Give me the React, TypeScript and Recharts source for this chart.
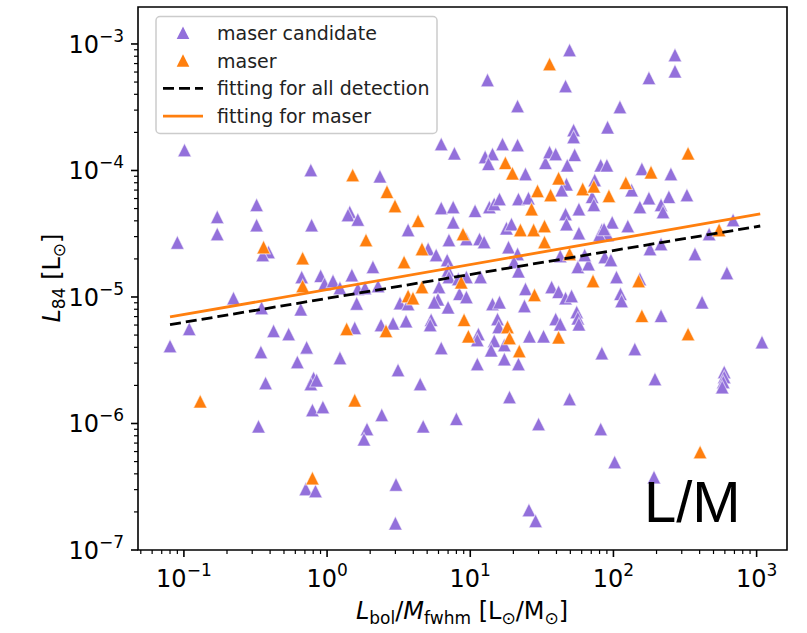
import { ScatterChart, Scatter, XAxis, YAxis, ReferenceArea } from 'recharts'

const FONT = '"DejaVu Sans", sans-serif'
const PURPLE = '#9370DB'
const ORANGE = '#FF7F0E'

// ticks (log axes, matplotlib style major + minor)
const xMajorTicks = [0.1, 1, 10, 100, 1000]
const xMinorTicks = [
  0.05, 0.06, 0.07, 0.08, 0.09, 0.2, 0.3, 0.4, 0.5, 0.6, 0.7, 0.8, 0.9, 2, 3, 4, 5, 6, 7, 8, 9,
  20, 30, 40, 50, 60, 70, 80, 90, 200, 300, 400, 500, 600, 700, 800, 900,
]
const yMajorTicks = [1e-7, 1e-6, 1e-5, 1e-4, 1e-3]
const yMinorTicks = [
  2e-7, 3e-7, 4e-7, 5e-7, 6e-7, 7e-7, 8e-7, 9e-7,
  2e-6, 3e-6, 4e-6, 5e-6, 6e-6, 7e-6, 8e-6, 9e-6,
  2e-5, 3e-5, 4e-5, 5e-5, 6e-5, 7e-5, 8e-5, 9e-5,
  2e-4, 3e-4, 4e-4, 5e-4, 6e-4, 7e-4, 8e-4, 9e-4,
]
const xDomain = [0.0478, 1630]
const yDomain = [1e-7, 1.96e-3]

// [L_bol/M_fwhm, L_84]
const candidatePoints: [number, number][] = [
  [0.08, 4.1e-6], [0.09, 2.7e-5], [0.101, 1.45e-4], [0.109, 5.6e-6], [0.171, 4.3e-5],
  [0.171, 3.15e-5], [0.222, 9.8e-6], [0.322, 5.35e-5], [0.322, 3.7e-5], [0.39, 2.27e-5],
  [0.355, 2.15e-5], [0.349, 8.2e-6], [0.423, 5.4e-6], [0.539, 5.1e-6], [0.345, 3.67e-6],
  [0.372, 2.09e-6], [0.332, 9.5e-7], [0.62, 3.06e-6], [0.72, 4.0e-6], [0.77, 1.01e-4],
  [0.78, 3.7e-5], [0.665, 1.44e-5], [0.655, 8.0e-6], [0.805, 2.29e-6], [0.77, 2.05e-6],
  [0.845, 2.2e-6], [0.79, 1.28e-6], [0.935, 1.35e-6], [0.71, 3.04e-7], [0.83, 2.93e-7],
  [0.902, 1.47e-5], [0.96, 1.27e-5], [1.1, 1.34e-5], [1.23, 1.18e-5], [1.23, 3.3e-6],
  [1.49, 1.49e-5], [1.64, 1.16e-5], [1.84, 1.18e-5], [1.61, 8.9e-6], [1.56, 5.7e-6],
  [1.44, 4.7e-5], [1.4, 4.45e-5], [1.64, 4.1e-5], [2.09, 1.73e-5], [2.27, 1.22e-5],
  [2.34, 9.0e-5], [2.38, 6.0e-6], [2.41, 1.17e-6], [1.9, 9.05e-7], [1.81, 7.5e-7],
  [2.89, 6.2e-6], [3.13, 2.65e-6], [3.03, 3.3e-7], [3.0, 1.63e-7], [3.56, 6.45e-6],
  [3.23, 8.95e-6], [3.68, 8.8e-6], [3.68, 3.39e-5], [4.47, 2.05e-6], [4.69, 9.5e-7],
  [5.08, 2.4e-5], [5.78, 2.15e-5], [6.9, 1.96e-5], [7.0, 1.63e-5], [7.1, 1.44e-5],
  [7.1, 2.82e-5], [7.6, 3.9e-5], [6.27, 5.05e-5], [7.6, 5.15e-5], [6.27, 1.62e-4],
  [7.75, 1.37e-4], [8.25, 1.39e-5], [6.05, 1.2e-5], [5.95, 9.6e-6], [5.6, 9.1e-6],
  [7.0, 8.3e-6], [8.4, 1.06e-5], [5.33, 6.6e-6], [5.25, 6.0e-6], [6.27, 3.95e-6],
  [8.0, 1.09e-6], [9.4, 2.87e-5], [9.4, 1.44e-5], [9.4, 1.0e-5], [11.8, 1.44e-5],
  [10.8, 4.8e-5], [11.6, 2.87e-5], [12.5, 2.72e-5], [13.6, 5.15e-5], [14.7, 5.44e-5],
  [16.0, 5.95e-5], [13.2, 5.2e-4], [12.7, 1.28e-4], [14.3, 1.35e-4], [13.4, 1.13e-4],
  [16.8, 1.62e-4], [21.4, 1.59e-4], [21.4, 3.23e-4], [21.7, 5.95e-5], [25.5, 6.05e-5],
  [24.3, 9.4e-5], [14.3, 8.8e-6], [16.0, 9.1e-6], [17.9, 3.5e-5], [19.4, 3.77e-5],
  [18.5, 2.48e-5], [21.4, 2.19e-5], [20.2, 1.89e-5], [21.7, 1.6e-5], [24.3, 1.16e-5],
  [23.9, 8.5e-6], [15.5, 6.7e-6], [15.8, 5.8e-6], [11.4, 5.1e-6], [11.2, 4.57e-6],
  [14.7, 4.5e-6], [17.3, 4.17e-6], [14.0, 3.8e-6], [17.3, 3.23e-6], [21.7, 2.95e-6],
  [11.2, 2.95e-6], [25.9, 4.9e-6], [32.5, 4.9e-6], [18.8, 1.62e-6], [30, 9.9e-7],
  [25.7, 2.07e-7], [28.6, 1.7e-7], [37, 1.2e-5], [41.4, 1.1e-5], [46.3, 9.8e-6],
  [51, 1.02e-5], [55.4, 7.6e-6], [56.4, 6.8e-6], [57.4, 6.1e-6], [39.5, 6.7e-6],
  [42.5, 6.1e-6], [42.5, 2.11e-5], [56.4, 1.73e-5], [67, 1.82e-5], [63, 2.15e-5],
  [87, 2.07e-5], [96, 1.96e-5], [105, 1.44e-5], [112, 1.06e-5], [114, 9.3e-6],
  [83, 3.6e-6], [141, 3.88e-6], [195, 2.25e-6], [49.4, 1.56e-6], [102, 4.96e-7],
  [192, 3.77e-7], [81.5, 9.05e-7], [33.5, 1.15e-4], [35.8, 1.4e-4], [39.5, 1.35e-4],
  [49.4, 8.95e-4], [46.3, 4.65e-4], [53.6, 1.33e-4], [47.6, 1.1e-4], [52.7, 2.09e-4],
  [52.7, 1.84e-4], [81.5, 1.1e-4], [90, 1.1e-4], [74, 8.4e-5], [47.0, 7.8e-5],
  [43.5, 7.0e-5], [71, 6.2e-5], [73, 5.35e-5], [111, 3.18e-4], [91, 2.2e-4],
  [158, 1.03e-4], [252, 9.4e-5], [269, 8.2e-4], [269, 6.1e-4], [177, 5.4e-4],
  [134, 7.0e-5], [177, 6.05e-5], [244, 6.2e-5], [326, 6.4e-5], [153, 5.15e-5],
  [215, 5.35e-5], [222, 4.7e-5], [57.4, 4.95e-5], [46.3, 4.53e-5], [47.0, 3.77e-5],
  [98, 3.9e-5], [126, 3.64e-5], [83, 3.39e-5], [57.4, 3.2e-5], [91, 3.09e-5],
  [80, 3.09e-5], [86, 3.45e-5], [466, 3.15e-5], [180, 2.4e-5], [215, 2.62e-5],
  [371, 2.19e-5], [685, 4.06e-5], [620, 1.55e-5], [416, 9.1e-6], [153, 1.39e-5],
  [215, 7.1e-6], [1090, 4.4e-6], [594, 2.55e-6], [594, 2.33e-6], [585, 2.13e-6],
  [575, 1.94e-6],
]

const maserPoints: [number, number][] = [
  [0.13, 1.5e-6], [0.36, 2.48e-5], [0.675, 2.03e-5], [0.675, 1.22e-5], [0.79, 3.7e-7],
  [1.37, 5.6e-6], [1.51, 9.2e-5], [1.56, 1.53e-6], [1.87, 2.82e-5], [2.62, 6.8e-5],
  [2.98, 5.25e-5], [2.58, 5.4e-6], [3.45, 1.89e-5], [3.68, 1.02e-5], [3.98, 9.8e-6],
  [4.32, 4.0e-5], [4.6, 2.4e-5], [4.6, 1.2e-5], [8.65, 1.31e-5], [8.9, 3.15e-5],
  [9.05, 6.6e-6], [9.7, 4.9e-6], [18.2, 5.8e-6], [18.8, 4.74e-6], [22, 3.74e-6],
  [28.1, 1.04e-5], [17.6, 1.15e-4], [19.7, 9.5e-5], [29.5, 6.9e-5], [36.4, 6.4e-5],
  [35.8, 6.95e-4], [41.4, 8.7e-5], [61, 7.15e-5], [73, 7.5e-5], [93, 6.3e-5],
  [122, 8.0e-5], [183, 9.7e-5], [332, 1.37e-4], [26.8, 4.95e-5], [22.4, 3.39e-5],
  [27.7, 3.39e-5], [33, 3.64e-5], [33, 2.72e-5], [49.4, 2.19e-5], [72, 1.34e-5],
  [150, 1.34e-5], [158, 7.1e-6], [332, 5.1e-6], [547, 3.39e-5], [403, 5.95e-7],
  [41.4, 4.8e-6],
]

// power-law fits, end points
const fitX = [0.08, 1060]
const fitAllY = [6.05e-6, 3.64e-5]
const fitMaserY = [6.95e-6, 4.53e-5]

const toXY = (pts: [number, number][]) => pts.map(([x, y]) => ({ x, y }))
const candidateData = toXY(candidatePoints)
const maserData = toXY(maserPoints)
const fitAllData = fitX.map((x, i) => ({ x, y: fitAllY[i] }))
const fitMaserData = fitX.map((x, i) => ({ x, y: fitMaserY[i] }))

const supText = (v: number) => {
  const e = Math.round(Math.log10(v))
  return e < 0 ? '\u2212' + -e : String(e)
}

const XTick = ({ x, y, payload }: any) => {
  const major = xMajorTicks.includes(payload.value)
  return (
    <g>
      <line x1={x} x2={x} y1={y} y2={y + (major ? 7 : 4)} stroke="#000" strokeWidth={major ? 1.6 : 1.2} />
      {major && (
        <text x={x} y={y + 37} textAnchor="middle" fontSize={24} fontFamily={FONT} fill="#000">
          10<tspan fontSize={17} dy={-11}>{supText(payload.value)}</tspan>
        </text>
      )}
    </g>
  )
}

const YTick = ({ x, y, payload }: any) => {
  const major = yMajorTicks.includes(payload.value)
  return (
    <g>
      <line x1={x - (major ? 7 : 4)} x2={x} y1={y} y2={y} stroke="#000" strokeWidth={major ? 1.6 : 1.2} />
      {major && (
        <text x={x - 14} y={y + 9} textAnchor="end" fontSize={24} fontFamily={FONT} fill="#000">
          10<tspan fontSize={17} dy={-11}>{supText(payload.value)}</tspan>
        </text>
      )}
    </g>
  )
}

const Triangle = (color: string) => (props: any) => {
  const { cx, cy } = props
  if (cx == null || cy == null) return <g />
  return (
    <polygon
      points={`${cx},${cy - 6.8} ${cx - 6.8},${cy + 6.8} ${cx + 6.8},${cy + 6.8}`}
      fill={color}
      stroke="#fff"
      strokeWidth={1.1}
      strokeOpacity={0.55}
    />
  )
}

const XLabel = () => (
  <text x={462} y={619} textAnchor="middle" fontSize={24} fontFamily={FONT} fill="#000">
    <tspan fontStyle="italic">L</tspan>
    <tspan fontSize={17} dy={5}>bol</tspan>
    <tspan dy={-5}>/</tspan>
    <tspan fontStyle="italic">M</tspan>
    <tspan fontSize={17} dy={5}>fwhm</tspan>
    <tspan dy={-5}>{'\u00a0[L'}</tspan>
    <tspan fontSize={17} dy={5}>⊙</tspan>
    <tspan dy={-5}>/M</tspan>
    <tspan fontSize={17} dy={5}>⊙</tspan>
    <tspan dy={-5}>]</tspan>
  </text>
)

const YLabel = () => (
  <text transform="translate(60,278) rotate(-90)" textAnchor="middle" fontSize={24} fontFamily={FONT} fill="#000">
    <tspan fontStyle="italic">L</tspan>
    <tspan fontSize={17} dy={5}>84</tspan>
    <tspan dy={-5}>{'\u00a0[L'}</tspan>
    <tspan fontSize={17} dy={5}>⊙</tspan>
    <tspan dy={-5}>]</tspan>
  </text>
)

const legendRows = [
  { label: 'maser candidate', kind: 'marker', color: PURPLE },
  { label: 'maser', kind: 'marker', color: ORANGE },
  { label: 'fitting for all detection', kind: 'dashed', color: '#000' },
  { label: 'fitting for maser', kind: 'solid', color: ORANGE },
]

const Overlay = () => (
  <svg width={807} height={633} style={{ position: 'absolute', left: 0, top: 0, pointerEvents: 'none' }}>
    <rect x={156} y={16.5} width={281} height={117} rx={4} fill="#fff" fillOpacity={0.8} stroke="#cccccc" strokeWidth={1.5} />
    {legendRows.map((r, i) => {
      const cy = 32.7 + i * 27.8
      return (
        <g key={r.label}>
          {r.kind === 'marker' && (
            <polygon points={`183,${cy - 6.3} 176.7,${cy + 6.3} 189.3,${cy + 6.3}`} fill={r.color} />
          )}
          {r.kind !== 'marker' && (
            <line
              x1={163}
              x2={203}
              y1={cy}
              y2={cy}
              stroke={r.color}
              strokeWidth={2.8}
              strokeDasharray={r.kind === 'dashed' ? '11 5' : undefined}
            />
          )}
          <text x={217} y={cy + 7} fontSize={19} fontFamily={FONT} fill="#222">{r.label}</text>
        </g>
      )
    })}
    <text x={644} y={522} fontSize={58} fontFamily='"Liberation Sans", Arial, sans-serif' fill="#000">L/M</text>
  </svg>
)

export default function App() {
  return (
    <div style={{ position: 'absolute', left: 0, top: 0, width: 807, height: 633, background: '#fff' }}>
      <ScatterChart width={807} height={633} margin={{ top: 7, right: 20, bottom: 0, left: 0 }}>
        <XAxis
          dataKey="x"
          type="number"
          scale="log"
          domain={xDomain}
          allowDataOverflow
          ticks={[...xMajorTicks, ...xMinorTicks]}
          interval={0}
          tick={<XTick />}
          tickLine={false}
          axisLine={false}
          tickSize={0}
          tickMargin={0}
          height={83}
          label={() => <XLabel />}
        />
        <YAxis
          dataKey="y"
          type="number"
          scale="log"
          domain={yDomain}
          allowDataOverflow
          ticks={[...yMajorTicks, ...yMinorTicks]}
          interval={0}
          tick={<YTick />}
          tickLine={false}
          axisLine={false}
          tickSize={0}
          tickMargin={0}
          width={138}
          label={() => <YLabel />}
        />
        <Scatter data={candidateData} fill={PURPLE} shape={Triangle(PURPLE)} isAnimationActive={false} />
        <Scatter data={maserData} fill={ORANGE} shape={Triangle(ORANGE)} isAnimationActive={false} />
        <Scatter
          data={fitAllData}
          fill="#000"
          line={{ stroke: '#000', strokeWidth: 2.8, strokeDasharray: '11 5' }}
          shape={() => <g />}
          isAnimationActive={false}
        />
        <Scatter
          data={fitMaserData}
          fill={ORANGE}
          line={{ stroke: ORANGE, strokeWidth: 2.8 }}
          shape={() => <g />}
          isAnimationActive={false}
        />
        <ReferenceArea
          x1={xDomain[0]}
          x2={xDomain[1]}
          y1={yDomain[0]}
          y2={yDomain[1]}
          ifOverflow="visible"
          fill="none"
          stroke="#000"
          strokeWidth={1.6}
        />
      </ScatterChart>
      <Overlay />
    </div>
  )
}
